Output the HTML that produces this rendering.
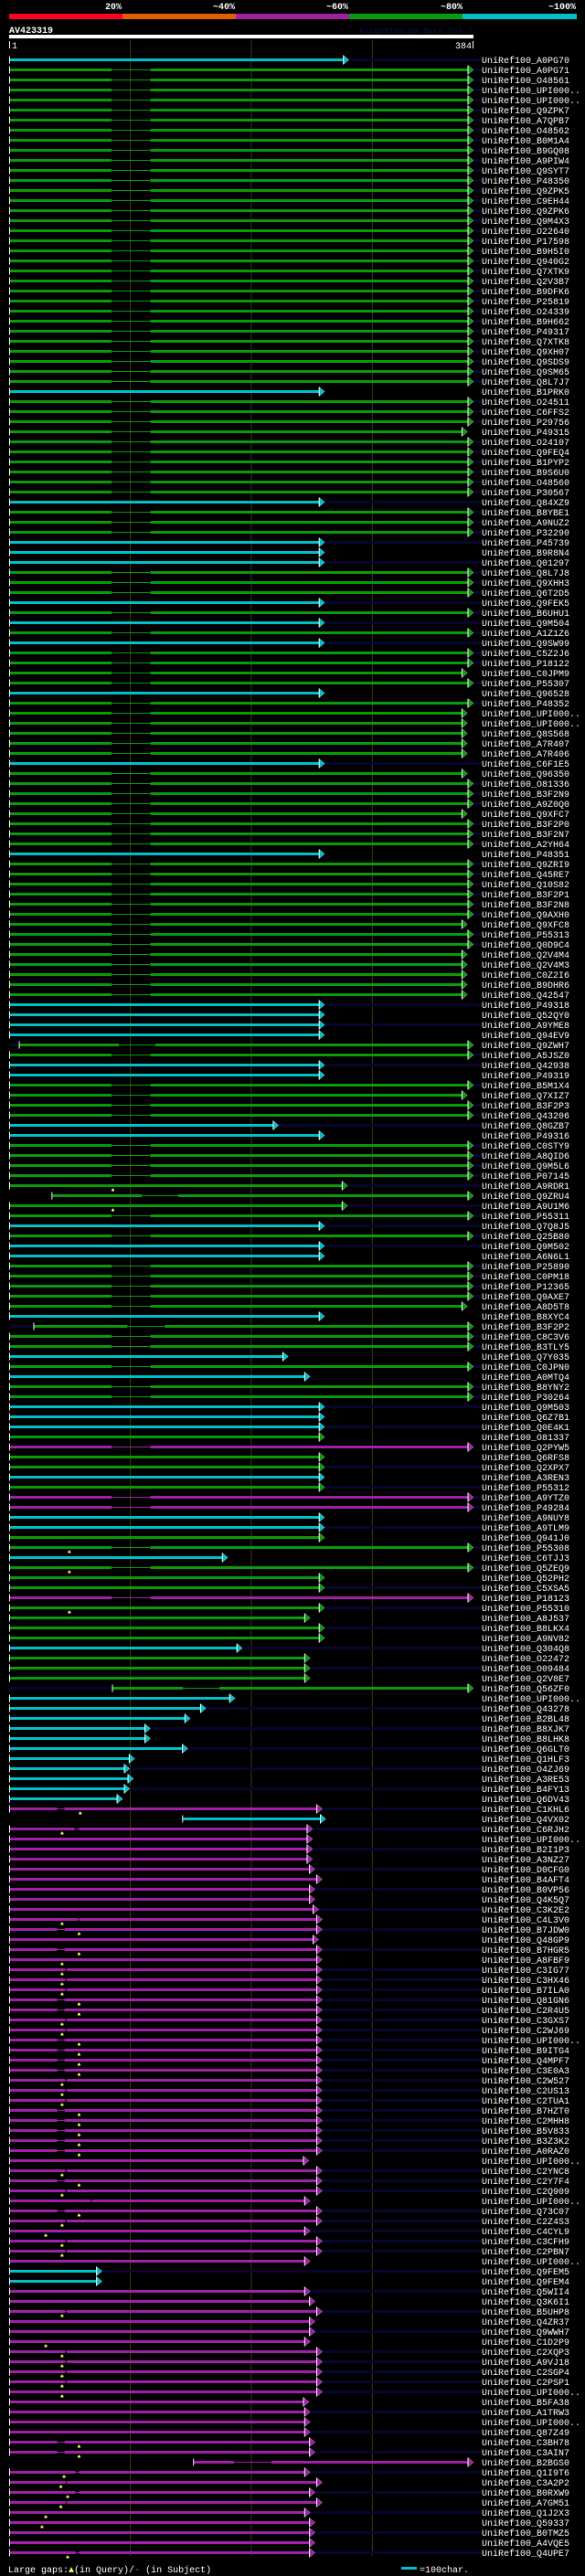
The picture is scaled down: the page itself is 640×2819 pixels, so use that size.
<!DOCTYPE html>
<html><head><meta charset="utf-8">
<style>
html,body{margin:0;padding:0;background:#000;}
svg{display:block;}
text{font-family:"Liberation Mono","DejaVu Sans Mono",monospace;}
</style></head>
<body>
<svg id="chart" xmlns="http://www.w3.org/2000/svg" width="640" height="2819" viewBox="0 0 640 2819">
<rect x="0" y="0" width="640" height="2819" fill="#000"/>
<g id="header">
  <rect x="10" y="15" width="124" height="6" fill="#ff0022"/>
  <rect x="134" y="15" width="124" height="6" fill="#e06000"/>
  <rect x="258" y="15" width="124" height="6" fill="#a020a0"/>
  <rect x="382" y="15" width="124" height="6" fill="#0a9a0a"/>
  <rect x="506" y="15" width="125" height="6" fill="#00c0c8"/>
  <text x="133" y="10" text-anchor="end" font-size="10" font-weight="bold" fill="#fff">20%</text>
  <text x="257" y="10" text-anchor="end" font-size="10" font-weight="bold" fill="#fff">~40%</text>
  <text x="381" y="10" text-anchor="end" font-size="10" font-weight="bold" fill="#fff">~60%</text>
  <text x="506" y="10" text-anchor="end" font-size="10" font-weight="bold" fill="#fff">~80%</text>
  <text x="630" y="10" text-anchor="end" font-size="10" font-weight="bold" fill="#fff">~100%</text>
</g>
<text x="10" y="36" font-size="10" font-weight="bold" fill="#fff">AV423319</text>
<text x="517" y="36" text-anchor="end" font-size="9" font-weight="bold" fill="#0a0a3a">AlignView.pm Beta rel.7</text>
<rect x="10" y="38" width="508" height="4" fill="#fff"/>
<rect x="10" y="45" width="1" height="8" fill="#fff"/>
<text x="13" y="53" font-size="10" fill="#fff">1</text>
<rect x="517" y="45" width="1" height="8" fill="#fff"/>
<text x="516" y="53" text-anchor="end" font-size="10" fill="#fff">384</text>
<g id="grid"></g>
<g id="rows"></g>
<g id="footer">
  <text x="9" y="2815" font-size="10" fill="#fff">Large gaps:<tspan fill="#ffff66">▲</tspan>(in Query)/<tspan fill="#00c0c8">-</tspan> (in Subject)</text>
  <rect x="439" y="2809" width="17" height="3" fill="#00c0c8"/>
  <text x="459" y="2815" font-size="10" fill="#fff">=100char.</text>
</g>
</svg>
<script>
// ---- data ----
const labelIds = ["A0PG70","A0PG71","O48561","UPI000..","UPI000..","Q9ZPK7","A7QPB7","O48562","B0M1A4","B9GQ08",
"A9PIW4","Q9SYT7","P48350","Q9ZPK5","C9EH44","Q9ZPK6","Q9M4X3","O22640","P17598","B9H5I0",
"Q940G2","Q7XTK9","Q2V3B7","B9DFK6","P25819","O24339","B9H662","P49317","Q7XTK8","Q9XH07",
"Q9SDS9","Q9SM65","Q8L7J7","B1PRK0","O24511","C6FFS2","P29756","P49315","O24107","Q9FEQ4",
"B1PYP2","B9S6U0","O48560","P30567","Q84XZ9","B8YBE1","A9NUZ2","P32290","P45739","B9R8N4",
"Q01297","Q8L7J8","Q9XHH3","Q6T2D5","Q9FEK5","B6UHU1","Q9M504","A1Z1Z6","Q9SW99","C5Z2J6",
"P18122","C0JPM9","P55307","Q96528","P48352","UPI000..","UPI000..","Q8S568","A7R407","A7R406",
"C6F1E5","Q96350","O81336","B3F2N9","A9Z0Q0","Q9XFC7","B3F2P0","B3F2N7","A2YH64","P48351",
"Q9ZRI9","Q45RE7","Q10S82","B3F2P1","B3F2N8","Q9AXH0","Q9XFC8","P55313","Q0D9C4","Q2V4M4",
"Q2V4M3","C0Z2I6","B9DHR6","Q42547","P49318","Q52QY0","A9YME8","Q94EV9","Q9ZWH7","A5JSZ0",
"Q42938","P49319","B5M1X4","Q7XIZ7","B3F2P3","Q43206","Q8GZB7","P49316","C0STY9","A8QID6",
"Q9M5L6","P07145","A9RDR1","Q9ZRU4","A9U1M6","P55311","Q7Q8J5","Q25B80","Q9M502","A6N6L1",
"P25890","C0PM18","P12365","Q9AXE7","A8D5T8","B8XYC4","B3F2P2","C8C3V6","B3TLY5","Q7Y035",
"C0JPN0","A0MTQ4","B8YNY2","P30264","Q9M503","Q6Z7B1","Q0E4K1","O81337","Q2PYW5","Q6RFS8",
"Q2XPX7","A3REN3","P55312","A9YTZ0","P49284","A9NUY8","A9TLM9","Q941J0","P55308","C6TJJ3",
"Q5ZEQ9","Q52PH2","C5XSA5","P18123","P55310","A8J537","B8LKX4","A9NV82","Q304Q8","O22472",
"O09484","Q2V8E7","Q56ZF0","UPI000..","Q43278","B2BL48","B8XJK7","B8LHK8","Q6GLT0","Q1HLF3",
"O4ZJ69","A3RE53","B4FY13","Q6DV43","C1KHL6","Q4VX02","C6RJH2","UPI000..","B2I1P3","A3NZ27",
"D0CFG0","B4AFT4","B0VP56","Q4K5Q7","C3K2E2","C4L3V0","B7JDW0","Q48GP9","B7HGR5","A8FBF9",
"C3IG77","C3HX46","B7ILA0","Q81GN6","C2R4U5","C3GXS7","C2WJ69","UPI000..","B9ITG4","Q4MPF7",
"C3E0A3","C2W527","C2US13","C2TUA1","B7HZT0","C2MHH8","B5V833","B3Z3K2","A0RAZ0","UPI000..",
"C2YNC8","C2Y7F4","C2Q909","UPI000..","Q73C07","C2Z4S3","C4CYL9","C3CFH9","C2PBN7","UPI000..",
"Q9FEM5","Q9FEM4","Q5WII4","Q3K6I1","B5UHP8","Q4ZR37","Q9WWH7","C1D2P9","C2XQP3","A9VJ18",
"C2SGP4","C2PSP1","UPI000..","B5FA38","A1TRW3","UPI000..","Q87Z49","C3BH78","C3AIN7","B2BGS0",
"Q1I9T6","C3A2P2","B0RXW9","A7GM51","Q1J2X3","Q59337","B0TMZ5","A4VQE5","Q4UPE7"];

// identity class per row: C=~100%, G=~80%, M=~60%
const identityCodes = (
"CGGGGGGGGG"+"GGGGGGGGGG"+"GGGGGGGGGG"+"GGGCGGGGGG"+"GGGGCGGGCC"+
"CGGGCGCGCG"+"GGGCGGGGGG"+"CGGGGGGGGC"+"GGGGGGGGGG"+"GGGGCCCCGG"+
"CCGGGGCCGG"+"GGGGGGCGCC"+"GGGGGCGGGC"+"GCGGCCCGMG"+"GCGMMCCGGC"+
"GGGMGGGGCG"+"GGGCCCCCCC"+"CCCCMCMMMM"+"MMMMMMMMMM"+"MMMMMMMMMM"+
"MMMMMMMMMM"+"MMMMMMMMMM"+"CCMMMMMMMM"+"MMMMMMMMMM"+"MMMMMMMMM").split("");

// subject alignment end position (query residue)
const endRes = [281,384,384,384,384,384,384,384,384,384,
384,384,384,384,384,384,384,384,384,384,
384,384,384,384,384,384,384,384,384,384,
384,384,384,261,384,384,384,379,384,384,
384,384,384,384,261,384,384,384,261,261,
261,384,384,384,261,384,261,384,261,384,
384,379,384,261,384,379,379,379,379,379,
261,379,384,384,384,379,384,384,384,261,
384,384,384,384,384,384,379,384,384,379,
379,379,379,379,261,261,261,261,384,384,
261,261,384,379,384,384,223,261,384,384,
384,384,280,384,280,384,261,384,261,261,
384,384,384,384,379,261,384,384,384,231,
384,249,384,384,261,261,261,261,384,261,
261,261,261,384,384,261,261,261,384,181,
384,261,261,384,261,249,261,261,193,249,
249,249,384,187,163,150,117,117,148,104,
100,103,100,94,259,262,251,251,251,251,
253,259,253,253,256,259,259,256,259,259,
259,259,259,259,259,259,259,259,259,259,
259,259,259,259,259,259,259,259,259,248,
259,259,259,249,259,259,249,259,259,249,
77,77,249,253,259,253,253,249,259,259,
259,259,259,248,249,249,249,253,253,384,
249,259,253,259,249,253,253,253,253];

// rows whose alignment starts later than residue 1
const lateStartRows = [98,113,126,162,175,239];
const lateStartRes  = [9,36,21,86,144,153];
const lateStartNavy = [1,0,1,1,0,0];

// gaps in subject (thin connector)
function span(a,b){const o=[];for(let i=a;i<=b;i++)o.push(i);return o;}
const stdGapRows = [].concat(span(1,32),span(34,43),span(45,47),span(51,53),[55,57],span(59,62),span(64,69),
  span(71,78),span(80,93),[99],span(102,105),span(108,111),[115,117],span(120,124),[127,128,130,132,133,138,143,144,148,150,153]);
const specialGapRows  = [98,113,126,162,239,174,176,185,213,240,241,242,243,248,
  186,188,193,194,197,198,199,200,204,205,206,207,208,211,214,237,238,
  190,191,192,195,196,201,202,203,210,212,215,217,218,224,228,229,230,231];
const specialGapStart = [91,110,98,144,186,40,54,57,67.5,55,47,55,47,55,
  40,40,40,40,40,40,40,40,40,40,40,40,40,40,40,40,40,
  46.5,46.5,46.5,46.5,46.5,46.5,46.5,46.5,46.5,46.5,46.5,46.5,46.5,46.5,46.5,46.5,46.5,46.5];
const specialGapEnd   = [121,140,129,174,217,46,58,58,68.5,58,48,58,48,58,
  46,46,46,46,46,46,46,46,46,46,46,46,46,46,46,46,46,
  48,48,48,48,48,48,48,48,48,48,48,48,48,48,48,48,48,48];
const stdGapStart = 85, stdGapEnd = 117;

// large gaps in query (yellow markers)
const markRows = [112,114,148,150,154,174,176,185,189,216,227,232,
  186,188,193,194,197,198,199,200,204,205,206,207,208,211,214,237,238,
  190,191,192,195,196,201,202,203,210,212,215,217,218,224,228,229,230,231,
  240,241,242,243,244,245,248];
const markRes = [86,86,50,50,50,59,44,44,44,30.5,30.5,44,
  58,58,58,58,58,58,58,58,58,58,58,58,58,58,58,58,58,
  44,44,44,44,44,44,44,44,44,44,44,44,44,44,44,44,44,44,
  45.6,43,48.6,43,30.5,27.4,48.6];

// rows where the subject continues beyond (navy extension)
const extRows = [0,44,48,50,54,56,58,70,94,96,100,106,112,114,116,118,134,136,140,142,143,144,146,152,154,156,158,160,164,166,168,170,172,174,176,178,
  180,182,184,186,188,190,191,192,193,194,195,196,197,198,199,200,201,202,203,204,205,206,207,208,210,211,212,214,215,216,217,218,220,222,224,226,228,229,230,231,232,234,236,238,240,242,244,246,248];

const gridRes = [100,200,300];

// ---- rendering ----
const NS = "http://www.w3.org/2000/svg";
const QLEN = 384, X0 = 11, X1 = 518;
function xOf(r){ return X0 + (r-1)*(X1-X0)/(QLEN-1); }
function yOf(i){ return 65.5 + 11*i; }
const palette = {C:"#00c0c8", G:"#0a9a0a", M:"#a020a8"};
function mk(tag, attrs, parent){
  const e = document.createElementNS(NS, tag);
  for (const k in attrs) e.setAttribute(k, attrs[k]);
  parent.appendChild(e); return e;
}
const grid = document.getElementById("grid");
gridRes.forEach(r=>{
  const l = mk("line",{x1:xOf(r)+0.5,x2:xOf(r)+0.5,y1:44,y2:2797,stroke:"#3a3a10","stroke-width":1},grid);
  
  
});
const rowsG = document.getElementById("rows");
labelIds.forEach((id,i)=>{
  const y = yOf(i);
  const code = identityCodes[i];
  const col = palette[code];
  const g = mk("g",{},rowsG);
  
  
  let sRes = 1, navyBefore = 0;
  const li = lateStartRows.indexOf(i);
  if (li >= 0){ sRes = lateStartRes[li]; navyBefore = lateStartNavy[li]; }
  const xs = li >= 0 ? xOf(sRes) : 11;
  const tip = xOf(endRes[i]);
  const base = tip - 6;
  if (navyBefore) mk("rect",{x:10,y:y-1.5,width:xs-10,height:3,fill:"#06062e"},g);
  let gs = null, ge = null;
  if (stdGapRows.indexOf(i) >= 0){ gs = stdGapStart; ge = stdGapEnd; }
  const si = specialGapRows.indexOf(i);
  if (si >= 0){ gs = specialGapStart[si]; ge = specialGapEnd[si]; }
  const isExt = extRows.indexOf(i) >= 0 || (code === "G" && endRes[i] >= 384 && li < 0);
  if (isExt) mk("rect",{x:tip,y:y-1.5,width:527-tip,height:3,fill:"#06062e"},g);
  if (gs !== null){
    const a = xOf(gs), b = xOf(ge);
    mk("rect",{x:xs,y:y-1.5,width:Math.max(0,a-xs),height:3,fill:col},g);
    mk("rect",{x:a,y:y-0.5,width:b-a,height:1,fill:col},g);
    mk("rect",{x:b,y:y-1.5,width:Math.max(0,base-b),height:3,fill:col},g);
  } else {
    mk("rect",{x:xs,y:y-1.5,width:Math.max(0,base-xs),height:3,fill:col},g);
  }
  mk("polygon",{points:`${base},${y-5} ${tip},${y} ${base},${y+5}`,fill:col,stroke:"#fff","stroke-width":0.5,"stroke-opacity":0.6},g);
  mk("rect",{x:base-0.5,y:y-5,width:1,height:10,fill:"#fff"},g);
  mk("rect",{x:(li>=0?xs-1:10),y:y-4,width:1,height:8,fill:"#fff"},g);
  const t = mk("text",{x:527,y:y+3.5,"font-size":10,fill:"#fff"},g);
  t.textContent = "UniRef100_" + id;
  
  
});
markRows.forEach((ri,k)=>{
  const x = xOf(markRes[k]), y = yOf(ri);
  const m = mk("path",{d:`M${x-0.5},${y+3} h1 v1 h1 v2 h-3 v-2 h1 z`,fill:"#ffff66"},rowsG);
  
  
});
</script>
</body></html>
